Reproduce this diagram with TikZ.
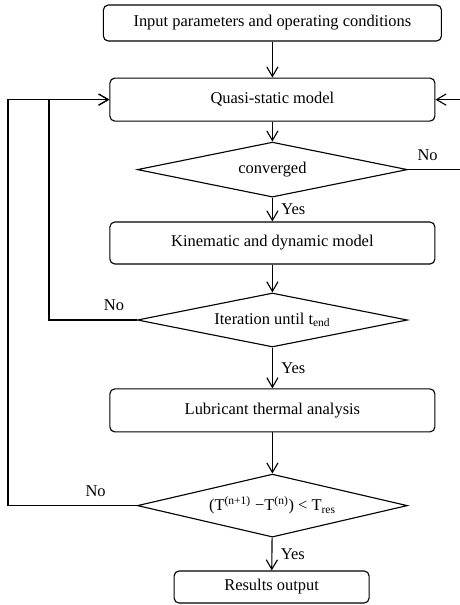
\documentclass[tikz,border=0pt]{standalone}
\usepackage{fontspec}
\setmainfont{Liberation Serif}
\usepackage{tikz}
\usetikzlibrary{positioning,arrows.meta,shapes.geometric,calc}
\tikzset{
  box/.style={rounded corners=3.5pt, draw=black, line width=0.8pt, align=center, minimum width=8.125cm, minimum height=1.075cm, inner sep=2pt, font=\fontsize{11.7}{14}\selectfont},
  cond/.style={diamond, aspect=4.9, draw=black, line width=0.8pt, align=center, minimum width=6.75cm, minimum height=1.375cm, inner sep=1pt, font=\fontsize{11.7}{14}\selectfont},
  arr/.style={-{Straight Barb[length=2.4mm, width=2.8mm]}, line width=0.8pt, draw=black},
  lbl/.style={font=\fontsize{11.7}{14}\selectfont, inner sep=2pt},
}

\begin{document}
\begin{tikzpicture}
    \useasboundingbox (0,0) rectangle (11.5,-15.125);
    \node[box, minimum width=8.45cm, minimum height=0.9cm] (inp) at (6.81,-0.575) {Input parameters and operating conditions};
    \node[box] (qs) at (6.81,-2.49) {Quasi-static model};
    \node[cond] (conv) at (6.81,-4.24) {converged};
    \node[box, minimum height=1.05cm] (kin) at (6.81,-6.075) {Kinematic and dynamic model};
    \node[cond, minimum height=1.35cm] (iter) at (6.81,-8.0) {Iteration until t\textsubscript{end}};
    \node[box] (lub) at (6.81,-10.26) {Lubricant thermal analysis};
    \node[cond, minimum height=1.575cm] (temp) at (6.81,-12.64) {(T\textsuperscript{(n+1)} −T\textsuperscript{(n)}) < T\textsubscript{res}};
    \node[box, minimum width=4.875cm, minimum height=0.8cm] (res) at (6.79,-14.675) {Results output};
    \coordinate (rgt) at (11.6,0);
    \coordinate (inr) at (1.225,0);
    \coordinate (outr) at (0.2,0);
    \draw[arr] (inp) -- (qs);
    \draw[arr] (qs) -- (conv);
    \draw[arr] (conv) -- node[lbl, right=4pt] {Yes} (kin);
    \draw[arr] (kin) -- (iter);
    \draw[arr] (iter) -- node[lbl, right=4pt] {Yes} (lub);
    \draw[arr] (lub) -- (temp);
    \draw[arr] (temp) -- node[lbl, right=4pt] {Yes} (res);
    \draw[arr] (conv.east) -- node[lbl, above=4pt, pos=0.35] {No} (conv.east -| rgt) |- (qs.east);
    \draw[arr] (iter.west) -- node[lbl, above=4pt, pos=0.26] {No} (iter.west -| inr) |- (qs.west);
    \draw[arr] (temp.west) -- node[lbl, above=4pt, pos=0.32] {No} (temp.west -| outr) |- (qs.west);
\end{tikzpicture}
\end{document}
